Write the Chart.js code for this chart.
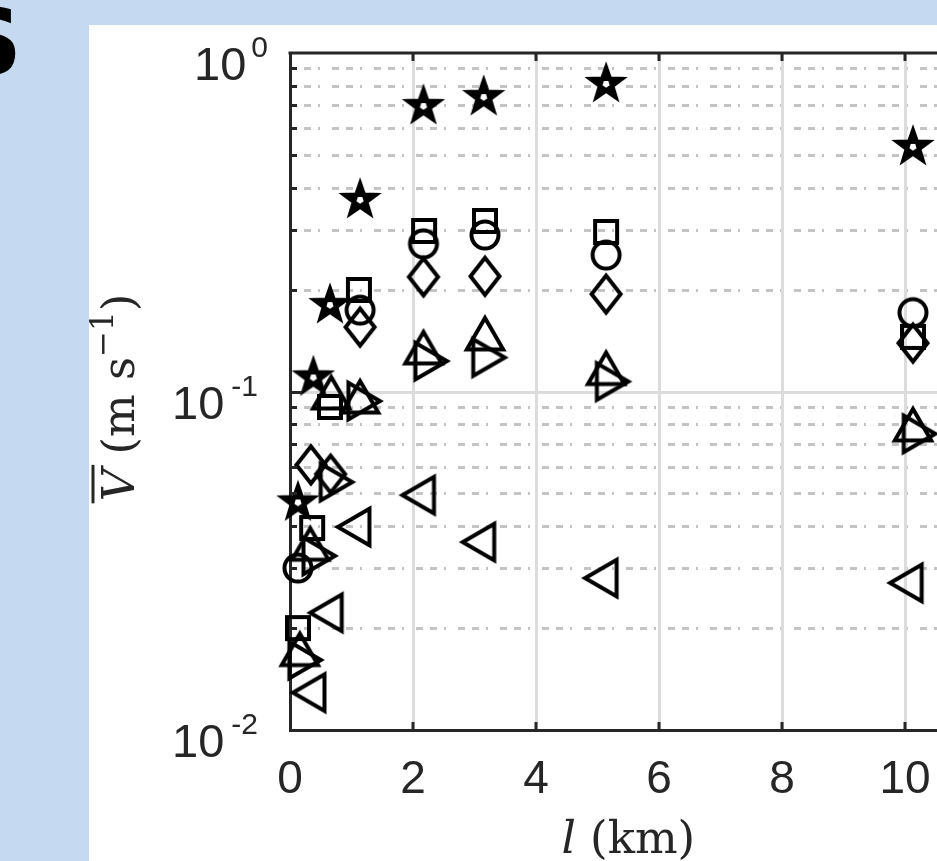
<!DOCTYPE html>
<html><head><meta charset="utf-8">
<script src="https://cdn.jsdelivr.net/npm/chart.js@4.4.1/dist/chart.umd.min.js"></script>
<style>
html,body{margin:0;padding:0;width:937px;height:861px;overflow:hidden;background:#c5d9f1;}
#panel{position:absolute;left:89px;top:25px;width:900px;height:900px;background:#fff;}
#letter{position:absolute;left:-43px;top:-2px;font:bold 90px "DejaVu Sans";color:#000;line-height:90px;}
#wrap{position:absolute;left:0;top:0;width:1000px;height:861px;}
canvas{display:block;}
</style></head>
<body>
<div id="panel"></div>
<div id="letter">S</div>
<div id="wrap"><canvas id="c" width="1000" height="861" style="width:1000px;height:861px"></canvas></div>
<script>
// ---- data (l in km, V in m/s) ----
const xTickValues = [0, 2, 4, 6, 8, 10];
const yTickExponents = [0, -1, -2];

const starL = [0.13, 0.38, 0.65, 1.14, 2.17, 3.15, 5.14, 10.13];
const starV = [0.047, 0.110, 0.180, 0.368, 0.697, 0.741, 0.810, 0.528];

const squareL = [0.13, 0.36, 0.65, 1.12, 2.18, 3.17, 5.14, 10.13];
const squareV = [0.0200, 0.0395, 0.090, 0.1995, 0.298, 0.319, 0.296, 0.145];

const circleL = [0.13, 1.14, 2.17, 3.17, 5.14, 10.13];
const circleV = [0.0301, 0.174, 0.273, 0.290, 0.253, 0.171];

const diamondL = [0.34, 0.66, 1.14, 2.17, 3.17, 5.14, 10.13];
const diamondV = [0.0607, 0.057, 0.155, 0.218, 0.219, 0.194, 0.139];

const upL = [0.16, 0.33, 0.67, 1.14, 2.17, 3.17, 5.14, 10.13];
const upV = [0.0167, 0.0342, 0.0957, 0.0931, 0.130, 0.143, 0.113, 0.077];

const rightL = [0.16, 0.39, 0.67, 1.12, 2.21, 3.15, 5.16, 10.15];
const rightV = [0.0161, 0.0327, 0.054, 0.0937, 0.123, 0.126, 0.107, 0.075];

const leftL = [0.39, 0.67, 1.12, 2.17, 3.15, 5.14, 10.10];
const leftV = [0.0129, 0.0222, 0.0398, 0.0494, 0.0359, 0.0281, 0.0272];

// ---- marker images ----
function markerCanvas(draw) {
  const S = 60, c = document.createElement('canvas');
  c.width = S; c.height = S;
  const g = c.getContext('2d');
  g.translate(S / 2, S / 2);
  g.strokeStyle = '#000'; g.fillStyle = '#000'; g.lineWidth = 4; g.lineJoin = 'miter';
  draw(g);
  return c;
}
function triangle(deg) {
  return g => {
    g.rotate(deg * Math.PI / 180);
    const r = 21;
    g.beginPath();
    for (let k = 0; k < 3; k++) {
      const a = -Math.PI / 2 + k * 2 * Math.PI / 3;
      g.lineTo(r * Math.cos(a), r * Math.sin(a));
    }
    g.closePath(); g.stroke();
  };
}
const markers = {
  star: markerCanvas(g => {
    const R = 19, r = R * 0.40;
    g.beginPath();
    for (let k = 0; k < 10; k++) {
      const a = -Math.PI / 2 + k * Math.PI / 5, rr = k % 2 ? r : R;
      g.lineTo(rr * Math.cos(a), rr * Math.sin(a));
    }
    g.closePath(); g.fill(); g.lineWidth = 2.5; g.stroke();
    g.fillStyle = '#fff'; g.beginPath();
    for (let k = 0; k < 5; k++) {
      const a = Math.PI / 2 + k * 2 * Math.PI / 5;
      g.lineTo(3.8 * Math.cos(a), 3.8 * Math.sin(a));
    }
    g.closePath(); g.fill();
  }),
  square: markerCanvas(g => { g.strokeRect(-11, -11, 22, 22); }),
  circle: markerCanvas(g => { g.beginPath(); g.arc(0, 0, 13.5, 0, 2 * Math.PI); g.stroke(); }),
  diamond: markerCanvas(g => {
    g.beginPath(); g.moveTo(0, -18.5); g.lineTo(14.5, 0); g.lineTo(0, 18.5); g.lineTo(-14.5, 0);
    g.closePath(); g.stroke();
  }),
  up: markerCanvas(triangle(0)),
  right: markerCanvas(triangle(90)),
  left: markerCanvas(triangle(-90))
};

const pts = (L, V) => L.map((x, i) => ({ x: x, y: V[i] }));
const ds = (name, L, V) => ({ label: name, data: pts(L, V), pointStyle: markers[name], showLine: false, clip: false });

const AXIS = '#262626';

const decorPlugin = {
  id: 'decor',
  beforeDraw(chart) {
    const ctx = chart.ctx, ys = chart.scales.y, a = chart.chartArea;
    ctx.save();
    for (let e = -2; e <= -1; e++) {
      for (let m = 1; m <= 9; m++) {
        const v = m * Math.pow(10, e);
        if (m === 1 && e === -2) continue;
        const py = Math.round(ys.getPixelForValue(v)) + 0.5;
        ctx.beginPath();
        if (m === 1) { ctx.setLineDash([]); ctx.strokeStyle = '#dcdcdc'; ctx.lineWidth = 3; }
        else { ctx.setLineDash([7, 7, 7, 7, 2, 12]); ctx.strokeStyle = '#c4c4c4'; ctx.lineWidth = 3; }
        ctx.moveTo(a.left, py); ctx.lineTo(a.right, py); ctx.stroke();
      }
    }
    ctx.restore();
  },
  afterDraw(chart) {
    const ctx = chart.ctx, ys = chart.scales.y, xs = chart.scales.x, a = chart.chartArea;
    ctx.save();
    ctx.strokeStyle = AXIS; ctx.lineWidth = 3; ctx.setLineDash([]);
    // top frame
    ctx.beginPath(); ctx.moveTo(a.left - 1.5, a.top); ctx.lineTo(a.right, a.top); ctx.stroke();
    // y ticks (inward)
    for (let e = -2; e <= -1; e++) {
      for (let m = 1; m <= 9; m++) {
        if (m === 1 && e === -2) continue;
        const py = Math.round(ys.getPixelForValue(m * Math.pow(10, e))) + 0.5;
        const len = m === 1 ? 12 : 7;
        ctx.beginPath(); ctx.moveTo(a.left, py); ctx.lineTo(a.left + len, py); ctx.stroke();
      }
    }
    // x ticks top & bottom (inward)
    xTickValues.forEach(v => {
      if (v === 0) return;
      const px = Math.round(xs.getPixelForValue(v));
      ctx.beginPath(); ctx.moveTo(px, a.top); ctx.lineTo(px, a.top + 8); ctx.stroke();
      ctx.beginPath(); ctx.moveTo(px, a.bottom); ctx.lineTo(px, a.bottom - 8); ctx.stroke();
    });
    // y tick labels 10^e
    ctx.fillStyle = AXIS; ctx.textBaseline = 'alphabetic'; ctx.textAlign = 'left';
    yTickExponents.forEach(e => {
      const py = ys.getPixelForValue(Math.pow(10, e));
      const sup = String(e);
      ctx.font = '47px "Liberation Sans"'; const w1 = ctx.measureText('10').width;
      ctx.font = '30px "Liberation Sans"'; const w2 = ctx.measureText(sup).width;
      const gap = e === 0 ? 5 : 7, right = e === 0 ? 268 : 258;
      const x0 = right - w2 - gap - w1;
      ctx.font = '47px "Liberation Sans"'; ctx.fillText('10', x0, py + 27);
      ctx.font = '30px "Liberation Sans"'; ctx.fillText(sup, x0 + w1 + gap, py + 4);
    });
    // x axis title: l (km)
    const fN = '45px "DejaVu Serif"', fI = 'italic 45px "DejaVu Serif"';
    ctx.font = fI; const wl = ctx.measureText('l').width;
    ctx.font = fN; const wr = ctx.measureText(' (km)').width;
    const cx = (a.left + a.right) / 2;
    let x0 = cx - (wl + wr) / 2;
    ctx.font = fI; ctx.fillText('l', x0, 853);
    ctx.font = fN; ctx.fillText(' (km)', x0 + wl, 853);
    // y axis title: overline V (m s^-1)
    ctx.save();
    ctx.translate(134, (a.top + a.bottom) / 2 + 6);
    ctx.rotate(-Math.PI / 2);
    const parts = [
      { t: 'V', f: fI, dy: 0 },
      { t: ' (m s', f: fN, dy: 0 },
      { t: '\u22121', f: '31px "DejaVu Serif"', dy: -21 },
      { t: ')', f: fN, dy: 0 }
    ];
    let tot = 0;
    parts.forEach(p => { ctx.font = p.f; p.w = ctx.measureText(p.t).width; tot += p.w; });
    let px = -tot / 2;
    parts.forEach((p, i) => {
      ctx.font = p.f; ctx.fillText(p.t, px, p.dy);
      if (i === 0) {
        ctx.beginPath(); ctx.lineWidth = 3; ctx.strokeStyle = AXIS;
        ctx.moveTo(px - 2, -41); ctx.lineTo(px + p.w + 4, -41); ctx.stroke();
      }
      px += p.w;
    });
    ctx.restore();
    ctx.restore();
  }
};

new Chart(document.getElementById('c'), {
  type: 'scatter',
  data: {
    datasets: [
      ds('left', leftL, leftV),
      ds('right', rightL, rightV),
      ds('up', upL, upV),
      ds('diamond', diamondL, diamondV),
      ds('circle', circleL, circleV),
      ds('square', squareL, squareV),
      ds('star', starL, starV)
    ]
  },
  options: {
    responsive: false,
    animation: false,
    devicePixelRatio: 1,
    layout: { padding: { top: 53, right: 33.5, left: 0, bottom: 0 } },
    plugins: { legend: { display: false }, tooltip: { enabled: false } },
    scales: {
      x: {
        type: 'linear', min: 0, max: 11,
        afterFit(s) { s.height = 131; },
        ticks: {
          stepSize: 2, includeBounds: false, autoSkip: false, maxRotation: 0,
          padding: 23, color: AXIS,
          font: { family: '"Liberation Sans"', size: 46 }
        },
        grid: { color: '#dcdcdc', lineWidth: 3, drawTicks: false },
        border: { color: AXIS, width: 3 }
      },
      y: {
        type: 'logarithmic', min: 0.01, max: 1,
        afterFit(s) { s.width = 290; },
        ticks: { display: false },
        grid: { display: false },
        border: { color: AXIS, width: 3 }
      }
    }
  },
  plugins: [decorPlugin]
});
</script>
</body></html>
